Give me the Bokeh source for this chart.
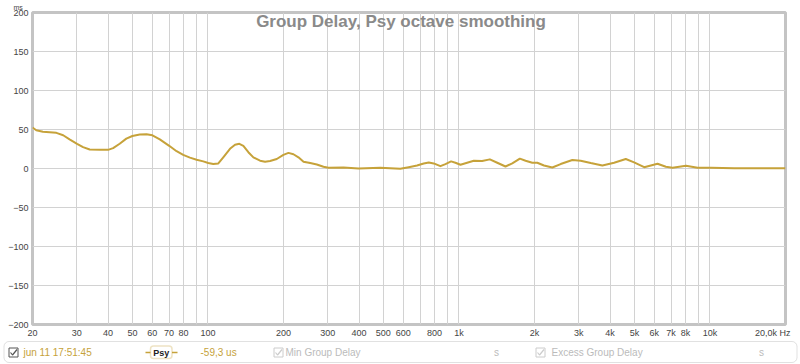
from bokeh.plotting import figure
from bokeh.models import Range1d, FixedTicker, Label, BoxAnnotation
from bokeh.layouts import column
from bokeh.core.properties import value
from bokeh.embed import file_html
from bokeh.resources import INLINE

# ---- data ----
freq_hz = [20, 20.7, 22.0, 23.4, 24.9, 26.5, 28.1, 30.1, 31.8, 33.8, 37.1, 40.0, 41.9,
           44.5, 47.3, 50.0, 53.5, 56.9, 60.1, 64.3, 70.1, 75.0, 79.7, 84.8, 90.1, 95.8,
           100.3, 105, 110, 115.1, 122.4, 128.2, 133.4, 138.4, 144.9, 151.7, 161.3,
           168.9, 176.8, 188, 199.8, 209.3, 219.1, 229.4, 240.3, 255.5, 271.6, 288.6,
           302.2, 346.9, 398.2, 486, 584, 630.5, 680.8, 723.8, 758, 793.6, 843.6, 883.5,
           930.4, 968.3, 1014, 1078, 1146, 1237, 1328, 1421, 1533, 1631, 1749, 1843,
           1960, 2052, 2182, 2355, 2542, 2830, 3055, 3350, 3728, 4151, 4621, 4988, 5470,
           6182, 6674, 7096, 8023, 8928, 10093, 12505, 20000]
delay_ms = [52.6, 49.1, 47.0, 46.5, 45.7, 42.6, 37.4, 31.7, 27.4, 24.3, 23.9, 23.9, 26.1,
            31.7, 38.3, 41.7, 43.5, 43.9, 42.6, 37.4, 29.1, 22.2, 17.4, 13.9, 11.3, 9.1,
            7.0, 5.7, 6.5, 14.3, 25.2, 30.4, 31.7, 29.1, 20.9, 14.3, 10.0, 8.7, 9.6, 12.2,
            17.4, 20.0, 18.3, 14.3, 8.7, 7.0, 5.2, 2.2, 0.9, 1.3, 0.0, 0.9, -0.4, 1.7, 3.9,
            6.5, 7.8, 6.5, 3.0, 5.7, 9.1, 7.4, 4.8, 7.4, 10.0, 9.6, 11.7, 7.4, 2.6, 6.5,
            12.6, 10.0, 7.4, 7.4, 3.9, 1.3, 5.7, 10.9, 10.0, 7.0, 3.9, 7.4, 12.2, 7.8, 1.7,
            6.1, 2.2, 0.9, 3.5, 0.9, 0.9, 0.4, 0.4]

x_ticks = [20, 30, 40, 50, 60, 70, 80, 90, 100, 200, 300, 400, 500, 600, 700, 800, 900,
           1000, 2000, 3000, 4000, 5000, 6000, 7000, 8000, 9000, 10000, 20000]
x_tick_labels = ["20", "30", "40", "50", "60", "70", "80", "", "100", "200", "300", "400",
                 "500", "600", "", "800", "", "1k", "2k", "3k", "4k", "5k", "6k", "7k",
                 "8k", "", "10k", "20,0k Hz\u00a0\u00a0\u00a0\u00a0"]
y_ticks = [-200, -150, -100, -50, 0, 50, 100, 150, 200]

title_text = "Group Delay, Psy octave smoothing"
y_unit = "ms"
trace_date = "jun 11 17:51:45"
trace_name = "Psy"
trace_offset = "-59,3 us"
legend_items = ["Min Group Delay", "Excess Group Delay"]
legend_units = ["s", "s"]

GOLD = "#c6a23a"
FONT = "Liberation Sans"

# ---- main plot ----
p = figure(width=800, height=340, x_axis_type="log", output_backend="svg",
           toolbar_location=None, x_range=Range1d(20, 20000), y_range=Range1d(-200, 200),
           min_border_left=32, min_border_right=15, min_border_top=12, min_border_bottom=16)
p.background_fill_color = "white"
p.border_fill_color = "white"
p.outline_line_color = "#c4c4c4"
p.outline_line_width = 3

# unit label "ms" above the y axis, through the plot's title slot
p.title.text = y_unit
p.title.align = "left"
p.title.offset = -19
p.title.standoff = 3
p.title.text_font = FONT
p.title.text_font_size = "7px"
p.title.text_font_style = "normal"
p.title.text_color = "#444444"

ticker = FixedTicker(ticks=x_ticks)
p.xaxis.ticker = ticker
p.xgrid.ticker = ticker
p.xaxis.major_label_overrides = {t: l for t, l in zip(x_ticks, x_tick_labels)}
p.yaxis.ticker = FixedTicker(ticks=y_ticks)
p.ygrid.ticker = FixedTicker(ticks=y_ticks)
for ax in (p.xaxis, p.yaxis):
    ax.axis_line_color = None
    ax.major_tick_line_color = None
    ax.minor_tick_line_color = None
    ax.major_tick_out = 0
    ax.major_tick_in = 0
    ax.major_label_text_font = FONT
    ax.major_label_text_font_size = "9px"
    ax.major_label_text_color = "#444444"
p.xaxis.major_label_standoff = 3
p.yaxis.major_label_standoff = 4
p.grid.grid_line_color = "#d2d2d2"
p.grid.grid_line_width = 1

p.line(freq_hz, delay_ms, line_color=GOLD, line_width=2, line_join="round")

p.add_layout(Label(x=587.6, y=188.5, text=title_text, text_align="center",
                   text_baseline="middle", text_font=FONT, text_font_size="17px",
                   text_font_style="bold", text_color="#8a8a8a"))

# ---- legend strip ----
leg = figure(width=800, height=24, output_backend="svg", toolbar_location=None,
             x_range=Range1d(0, 800), y_range=Range1d(0, 24),
             min_border_left=0, min_border_right=0, min_border_top=0, min_border_bottom=0,
             x_axis_location=None, y_axis_location=None)
leg.frame_align = False
leg.grid.visible = False
leg.outline_line_color = None
leg.background_fill_color = "white"
leg.border_fill_color = "white"

leg.add_layout(BoxAnnotation(left=3.5, right=796.5, bottom=2, top=23, border_radius=5,
                             fill_color=None, line_color="#9a9a9a", line_width=1))

def checkbox(cx, color):
    leg.rect(x=[cx], y=[12], width=9, height=9, fill_color="white", line_color=color,
             line_width=1)
    leg.line(x=[cx - 3, cx - 1, cx + 3.5], y=[12, 9.5, 15], line_color=color,
             line_width=1.2)

checkbox(13, "#555555")
checkbox(278, "#cccccc")
checkbox(540, "#cccccc")

tstyle = dict(text_font=value(FONT), text_font_size="10px", text_baseline="middle")
leg.text(x=[23], y=[12], text=[trace_date], text_color=GOLD, text_align="left", **tstyle)
leg.line(x=[145, 150], y=[12, 12], line_color=GOLD, line_width=1.5)
leg.line(x=[171.5, 177], y=[12, 12], line_color=GOLD, line_width=1.5)
leg.add_layout(BoxAnnotation(left=150, right=171.5, bottom=6, top=18.5, border_radius=3,
                             fill_color=None, line_color=GOLD, line_width=1.5))
leg.text(x=[160.8], y=[12], text=[trace_name], text_color="#222222", text_align="center",
         text_font_style="bold", text_font=value(FONT), text_font_size="9px",
         text_baseline="middle")
leg.text(x=[200], y=[12], text=[trace_offset], text_color=GOLD, text_align="left", **tstyle)
leg.text(x=[285, 551], y=[12, 12], text=legend_items, text_color="#bbbbbb",
         text_align="left", **tstyle)
leg.text(x=[496, 761], y=[12, 12], text=legend_units, text_color="#bbbbbb",
         text_align="center", **tstyle)

layout = column(p, leg, spacing=0)
open("out.html", "w").write(file_html(layout, INLINE))
